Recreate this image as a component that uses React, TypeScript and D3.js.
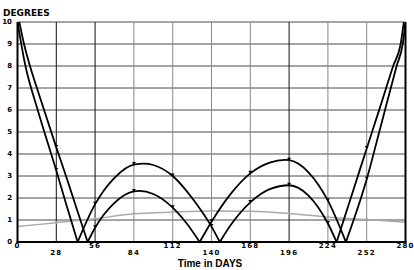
import React from 'react';
import * as d3 from 'd3';

// tick values
const dayTicks = [0, 28, 56, 84, 112, 140, 168, 196, 224, 252, 280];
const degreeTicks = [0, 1, 2, 3, 4, 5, 6, 7, 8, 9, 10];

// first black curve
const outerDays = [0, 5.4, 14.6, 28, 35, 43.4, 56, 70, 84, 91, 98, 112, 126, 135, 140, 146, 154, 168, 182, 196, 210, 224, 230.3, 244.7, 252, 262, 271.1, 276.5, 278.8];
const outerDegrees = [10, 8.1, 6.0, 3.25, 1.75, 0, 1.72, 2.92, 3.52, 3.56, 3.5, 3.0, 2.0, 1.2, 0.7, 0, 0.78, 1.8, 2.4, 2.58, 2.11, 0.84, 0, 2.82, 4.25, 6.2, 8.0, 9.0, 10];

// second black curve
const innerDays = [1.3, 4.7, 9, 14, 28, 35, 42, 50.6, 56, 70, 84, 88, 98, 112, 122, 131.5, 140, 154, 168, 182, 193, 196, 210, 224, 237, 252, 262, 273.6, 278, 280];
const innerDegrees = [10, 9, 8, 7, 4.3, 3.0, 1.65, 0, 0.65, 1.78, 2.3, 2.32, 2.18, 1.56, 0.85, 0, 0.92, 2.2, 3.12, 3.61, 3.73, 3.72, 3.17, 1.88, 0, 2.85, 5.23, 8, 9, 10];

// gray curve
const meanDays = [0, 28, 56, 84, 112, 140, 168, 196, 224, 252, 280];
const meanDegrees = [0.7, 0.88, 1.06, 1.28, 1.36, 1.41, 1.4, 1.3, 1.13, 1.02, 0.9];

const W = 414;
const H = 270;

const x = d3.scaleLinear().domain([0, 280]).range([17.5, 405.5]);
const y = d3.scaleLinear().domain([0, 10]).range([242, 22]);

type Pt = [number, number];

const toPoints = (days: number[], vals: number[]): Pt[] => days.map((d, i) => [d, vals[i]]);

// split a curve at its zero points so the V bottoms stay sharp
const splitAtZeros = (pts: Pt[]): Pt[][] => {
  const segs: Pt[][] = [];
  let cur: Pt[] = [];
  pts.forEach((p) => {
    cur.push(p);
    if (p[1] === 0 && cur.length > 1) {
      segs.push(cur);
      cur = [p];
    }
  });
  if (cur.length > 1) segs.push(cur);
  return segs;
};

const line = d3
  .line<Pt>()
  .x((d) => x(d[0]))
  .y((d) => y(d[1]))
  .curve(d3.curveMonotoneX);

const darkDays = [28, 56, 196];

export default function App() {
  const outer = toPoints(outerDays, outerDegrees);
  const inner = toPoints(innerDays, innerDegrees);
  const mean = toPoints(meanDays, meanDegrees);
  const markerPts = (pts: Pt[]) => pts.filter((p) => p[0] % 28 === 0 && p[0] > 0 && p[0] < 280);

  return (
    <svg width={W} height={H} style={{ position: 'absolute', left: 0, top: 0, background: '#fff' }}>
      <defs>
        <clipPath id="plot">
          <rect x={x(0)} y={y(10)} width={x(280) - x(0)} height={y(0) - y(10)} />
        </clipPath>
      </defs>

      {/* grid */}
      {degreeTicks.slice(1).map((t) => (
        <line key={'h' + t} x1={x(0)} x2={x(280)} y1={y(t)} y2={y(t)} stroke="#4a4a4a" strokeWidth={1} />
      ))}
      {dayTicks.slice(1, -1).map((t) => (
        <line
          key={'v' + t}
          x1={x(t)}
          x2={x(t)}
          y1={y(0)}
          y2={y(10)}
          stroke={darkDays.includes(t) ? '#111' : '#888'}
          strokeWidth={1}
        />
      ))}

      <g clipPath="url(#plot)">
        <path d={line(mean) || ''} fill="none" stroke="#aaa" strokeWidth={1.5} />
        {markerPts(mean).map((p, i) => (
          <path key={'gm' + i} transform={`translate(${x(p[0])},${y(p[1])})`} d="M-1.5,-1.5L1.5,-1.5L0,1Z" fill="#aaa" />
        ))}
        {[outer, inner].map((pts, k) =>
          splitAtZeros(pts).map((seg, i) => (
            <path key={k + '-' + i} d={line(seg) || ''} fill="none" stroke="#000" strokeWidth={1.8} />
          ))
        )}
        {[outer, inner].map((pts, k) =>
          markerPts(pts).map((p, i) => (
            <path key={'m' + k + i} transform={`translate(${x(p[0])},${y(p[1])})`} d="M-2,-2.5L2,-2.5L0,0.5Z" fill="#000" />
          ))
        )}
      </g>

      {/* frame */}
      <line x1={x(0)} x2={x(0)} y1={y(10)} y2={y(0) + 1} stroke="#000" strokeWidth={2} />
      <line x1={x(280)} x2={x(280)} y1={y(10)} y2={y(0) + 1} stroke="#000" strokeWidth={2} />
      <line x1={x(0) - 1} x2={x(280) + 1} y1={y(0)} y2={y(0)} stroke="#000" strokeWidth={2} />

      {/* y tick labels */}
      {degreeTicks.map((t) => (
        <text
          key={'yl' + t}
          x={12}
          y={y(t)}
          dy="0.35em"
          textAnchor="end"
          fontFamily="DejaVu Sans"
          fontSize={7}
          fontWeight="bold"
          fill="#000"
        >
          {t}
        </text>
      ))}

      {/* x tick labels, alternating rows */}
      {dayTicks.map((t, i) => (
        <text
          key={'xl' + t}
          x={x(t)}
          y={i % 2 === 0 ? 248.3 : 255.3}
          textAnchor="middle"
          fontFamily="DejaVu Sans"
          fontSize={7}
          fontWeight="bold"
          letterSpacing={1.2}
          fill="#000"
        >
          {t}
        </text>
      ))}

      <text x={3} y={16} fontFamily="DejaVu Sans" fontSize={9} fontWeight="bold" fill="#000">
        DEGREES
      </text>
      <text x={210} y={267} textAnchor="middle" fontFamily="Liberation Sans" fontSize={10} fontWeight="bold" fill="#000">
        Time in DAYS
      </text>
    </svg>
  );
}
